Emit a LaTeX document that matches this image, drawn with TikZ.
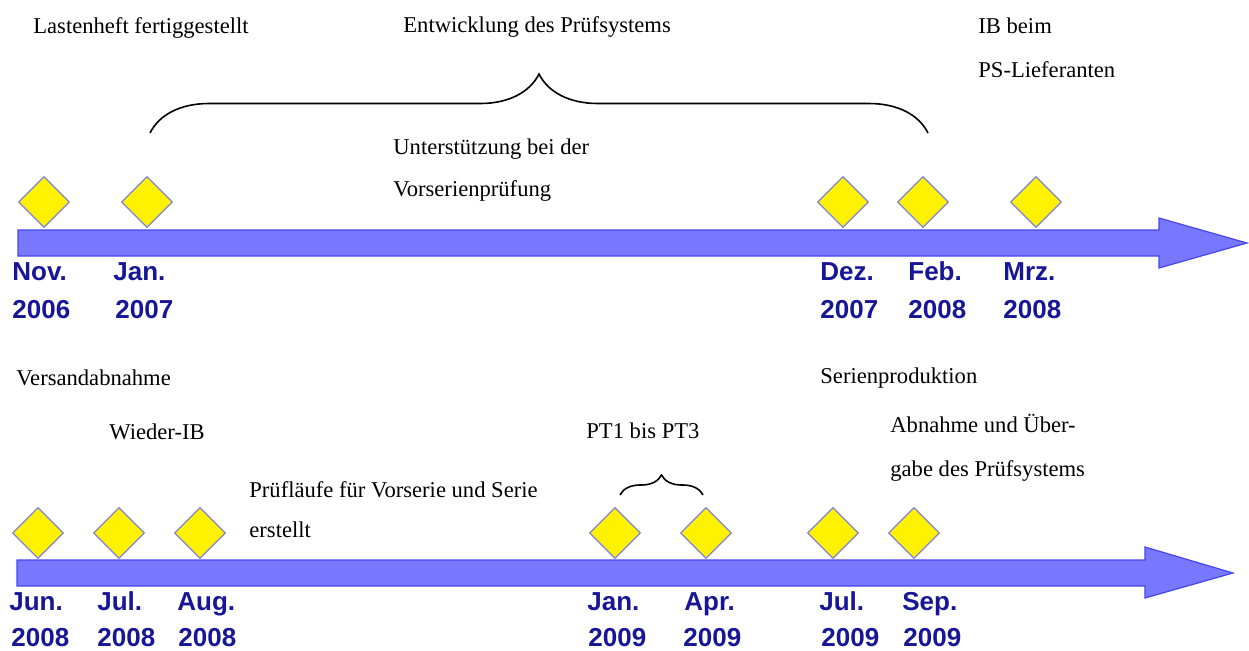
\documentclass[tikz,border=0pt]{standalone}
\usepackage{fontspec}
\setmainfont{Liberation Serif}
\newfontfamily\datefont{Liberation Sans}
\usetikzlibrary{shapes.geometric,decorations.pathreplacing,positioning}
\definecolor{barblue}{RGB}{120,120,255}
\definecolor{baredge}{RGB}{70,70,235}
\definecolor{datenavy}{RGB}{22,22,150}
\definecolor{diaedge}{RGB}{130,130,215}
\tikzset{%
	milestone/.style = {diamond, draw=diaedge, fill=yellow, line width=0.6pt, inner sep=0pt, minimum width=25.5pt, minimum height=25.5pt},
	datelabel/.style = {anchor=base west, inner sep=0pt, text=datenavy, font=\datefont\bfseries\fontsize{13}{15}\selectfont},
	note/.style      = {anchor=base west, inner sep=0pt, font=\fontsize{11.3}{13}\selectfont},
	timeline/.style  = {draw=baredge, fill=barblue, line width=0.6pt},
	bracket/.style   = {decorate, line width=0.8pt},
}

\begin{document}
\begin{tikzpicture}[x=0.5pt,y=-0.5pt]
	\useasboundingbox (0,0) rectangle (1249,650);
	
	% top time line
	\draw[timeline] (18,230) -- (1159,230) -- (1159,218) -- (1247,243) -- (1159,268) -- (1159,256) -- (18,256) -- cycle;
	\node[milestone] (nov06) at (44,202) {};
	\node[milestone] (jan07) at (147,202) {};
	\node[milestone] (dez07) at (843,202) {};
	\node[milestone] (feb08) at (923,202) {};
	\node[milestone] (mrz08) at (1036,202) {};
	
	\node[datelabel] (nov06m) at (12,280) {Nov.};
	\node[datelabel] (nov06y) at (12,318) {2006};
	\node[datelabel] (jan07m) at (113,280) {Jan.};
	\node[datelabel] (jan07y) at (115,318) {2007};
	\node[datelabel] (dez07m) at (820,280) {Dez.};
	\node[datelabel] (dez07y) at (820,318) {2007};
	\node[datelabel] (feb08m) at (908,280) {Feb.};
	\node[datelabel] (feb08y) at (908,318) {2008};
	\node[datelabel] (mrz08m) at (1003,280) {Mrz.};
	\node[datelabel] (mrz08y) at (1003,318) {2008};
	
	\node[note] (lasten) at (33,33) {Lastenheft fertiggestellt};
	\node[note] (entw) at (403,32) {Entwicklung des Prüfsystems};
	\node[note] (ib1) at (978,33) {IB beim};
	\node[note] (ib2) at (978,77) {PS-Lieferanten};
	\node[note] (unter1) at (393,154) {Unterstützung bei der};
	\node[note] (unter2) at (393,196) {Vorserienprüfung};
	
	\coordinate (entwL) at (150,133);
	\coordinate (entwR) at (928,133);
	\draw[bracket, decoration={brace, amplitude=29.5pt}] (entwL) -- (entwR);
	
	% bottom time line
	\draw[timeline] (17,560) -- (1145,560) -- (1145,547) -- (1233,573) -- (1145,598) -- (1145,586) -- (17,586) -- cycle;
	\node[milestone] (jun08) at (38,533) {};
	\node[milestone] (jul08) at (119,533) {};
	\node[milestone] (aug08) at (200,533) {};
	\node[milestone] (jan09) at (615,533) {};
	\node[milestone] (apr09) at (706,533) {};
	\node[milestone] (jul09) at (833,533) {};
	\node[milestone] (sep09) at (914,533) {};
	
	\node[datelabel] (jun08m) at (9,610) {Jun.};
	\node[datelabel] (jun08y) at (11,646) {2008};
	\node[datelabel] (jul08m) at (97,610) {Jul.};
	\node[datelabel] (jul08y) at (97,646) {2008};
	\node[datelabel] (aug08m) at (177,610) {Aug.};
	\node[datelabel] (aug08y) at (178,646) {2008};
	\node[datelabel] (jan09m) at (587,610) {Jan.};
	\node[datelabel] (jan09y) at (588,646) {2009};
	\node[datelabel] (apr09m) at (684,610) {Apr.};
	\node[datelabel] (apr09y) at (683,646) {2009};
	\node[datelabel] (jul09m) at (819,610) {Jul.};
	\node[datelabel] (jul09y) at (821,646) {2009};
	\node[datelabel] (sep09m) at (902,610) {Sep.};
	\node[datelabel] (sep09y) at (903,646) {2009};
	
	\node[note] (versand) at (16,385) {Versandabnahme};
	\node[note] (wieder) at (109,439) {Wieder-IB};
	\node[note] (pruef1) at (249,497) {Prüfläufe für Vorserie und Serie};
	\node[note] (pruef2) at (249,537) {erstellt};
	\node[note] (pt) at (586,438) {PT1 bis PT3};
	\node[note] (serie) at (820,383) {Serienproduktion};
	\node[note] (abn1) at (890,432) {Abnahme und Über-};
	\node[note] (abn2) at (890,476) {gabe des Prüfsystems};
	
	\coordinate (ptL) at (620,495);
	\coordinate (ptR) at (703,495);
	\draw[bracket, decoration={brace, amplitude=10pt}] (ptL) -- (ptR);
\end{tikzpicture}
\end{document}
